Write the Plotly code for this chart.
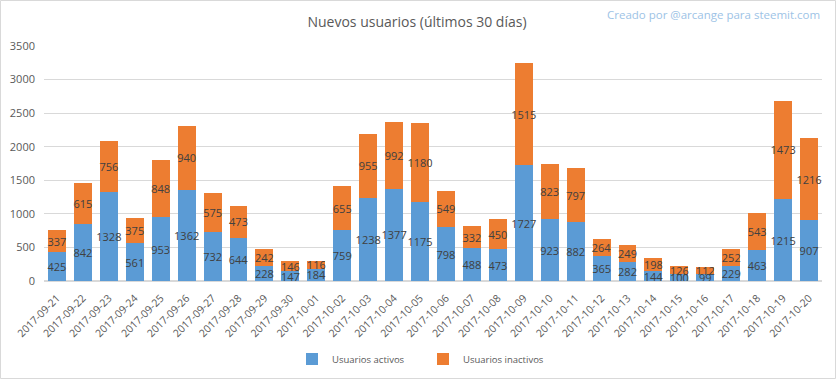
import plotly.graph_objects as go

dates = ["2017-09-21","2017-09-22","2017-09-23","2017-09-24","2017-09-25","2017-09-26","2017-09-27",
         "2017-09-28","2017-09-29","2017-09-30","2017-10-01","2017-10-02","2017-10-03","2017-10-04",
         "2017-10-05","2017-10-06","2017-10-07","2017-10-08","2017-10-09","2017-10-10","2017-10-11",
         "2017-10-12","2017-10-13","2017-10-14","2017-10-15","2017-10-16","2017-10-17","2017-10-18",
         "2017-10-19","2017-10-20"]
activos = [425, 842, 1328, 561, 953, 1362, 732, 644, 228, 147, 184, 759, 1238, 1377, 1175,
           798, 488, 473, 1727, 923, 882, 365, 282, 144, 100, 99, 229, 463, 1215, 907]
inactivos = [337, 615, 756, 375, 848, 940, 575, 473, 242, 146, 116, 655, 955, 992, 1180,
             549, 332, 450, 1515, 823, 797, 264, 249, 198, 126, 112, 252, 543, 1473, 1216]
y_ticks = [0, 500, 1000, 1500, 2000, 2500, 3000, 3500]

FONT = "Open Sans, Noto Sans, sans-serif"
W, H = 836, 379
ML, MR, MT, MB = 44, 14, 46, 98
PW, PH = W - ML - MR, H - MT - MB

fig = go.Figure()
for name, vals, col in [("Usuarios activos", activos, "#5B9BD5"),
                        ("Usuarios inactivos", inactivos, "#ED7D31")]:
    fig.add_trace(go.Bar(
        x=dates, y=vals, name=name, marker=dict(color=col, line=dict(width=0)),
        text=[str(v) for v in vals], textposition="inside", insidetextanchor="middle",
        textangle=0, constraintext="none", cliponaxis=False,
        textfont=dict(family=FONT, size=11, color="#404040"),
    ))

fig.update_layout(
    barmode="stack", bargap=0.31,
    width=W, height=H,
    margin=dict(l=ML, r=MR, t=MT, b=MB, autoexpand=False),
    paper_bgcolor="white", plot_bgcolor="white",
    font=dict(family=FONT, color="#595959", size=11),
    title=dict(text="Nuevos usuarios (últimos 30 días)", x=417 / W, xanchor="center",
               y=1 - 22 / H, yanchor="middle",
               font=dict(family=FONT, size=14, color="#595959")),
    legend=dict(orientation="h", x=(423 - ML) / PW, xanchor="center", y=-(359 - 281) / PH,
                yanchor="middle",
                font=dict(family=FONT, size=9.5, color="#595959"), traceorder="normal",
                itemwidth=30, entrywidth=86, entrywidthmode="pixels"),
    showlegend=True,
)
fig.update_xaxes(type="category", tickangle=-45, showgrid=False, showline=True,
                 linecolor="#d9d9d9", linewidth=1, ticks="", automargin=False,
                 ticklabelstandoff=6,
                 tickfont=dict(family=FONT, size=10.5, color="#595959"))
fig.update_yaxes(range=[0, 3500], tickvals=y_ticks, showgrid=True, gridcolor="#d9d9d9",
                 gridwidth=1, zeroline=True, zerolinecolor="#d9d9d9", showline=False,
                 ticks="", ticklabelstandoff=8, automargin=False,
                 tickfont=dict(family=FONT, size=11, color="#595959"))

fig.add_annotation(text="Creado por @arcange para steemit.com", xref="paper", yref="paper",
                   x=1, xanchor="right", y=1 + (46 - 14) / PH, yanchor="middle",
                   showarrow=False, font=dict(family=FONT, size=11.5, color="#9DC3E6"))

fig.add_shape(type="rect", xref="paper", yref="paper",
              x0=-(ML - 0.5) / PW, x1=1 + (MR - 0.5) / PW,
              y0=-(MB - 0.5) / PH, y1=1 + (MT - 0.5) / PH,
              line=dict(color="#d9d9d9", width=1), layer="below")

fig.write_html("out.html", config={"displayModeBar": False},
               post_script="document.body.style.margin='0';")
